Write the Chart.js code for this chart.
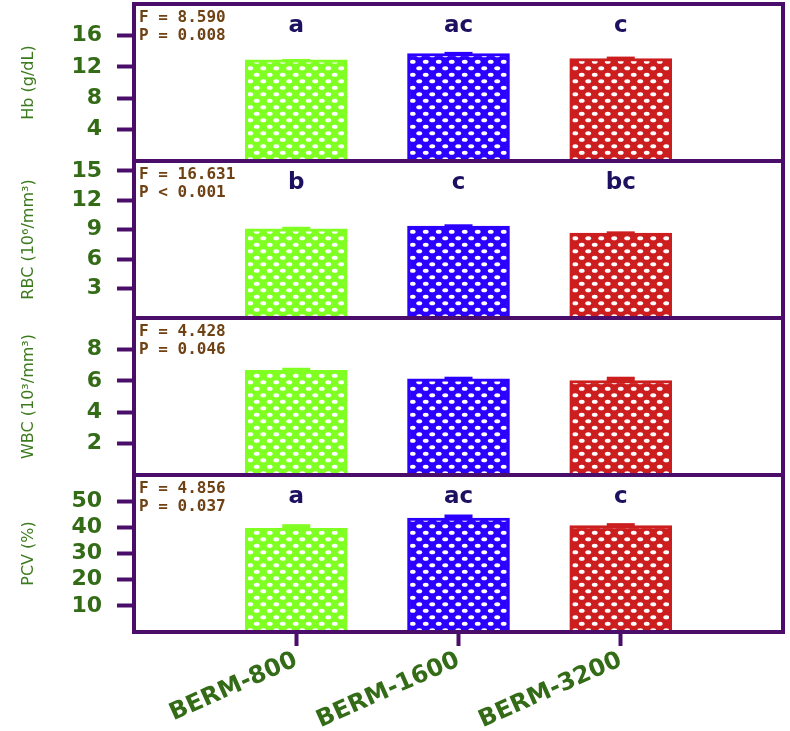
<!DOCTYPE html>
<html>
<head>
<meta charset="utf-8">
<script src="https://cdn.jsdelivr.net/npm/chart.js@4.4.1/dist/chart.umd.min.js"></script>
<style>
html,body{margin:0;padding:0;background:#fff;}
#wrap{position:relative;width:790px;height:731px;overflow:hidden;background:#fff;}
canvas{position:absolute;left:0;}
</style>
</head>
<body>
<div id="wrap">
<canvas id="c1" width="790" height="165" style="top:0px"></canvas>
<canvas id="c2" width="790" height="165" style="top:157px"></canvas>
<canvas id="c3" width="790" height="165" style="top:314px"></canvas>
<canvas id="c4" width="790" height="260" style="top:471px"></canvas>
</div>
<script>
// ---- data ----
const categories = ['BERM-800', 'BERM-1600', 'BERM-3200'];

const hbValues  = [12.9, 13.7, 13.05];
const hbErrors  = [0.1, 0.2, 0.25];
const rbcValues = [9.1, 9.38, 8.66];
const rbcErrors = [0.2, 0.17, 0.17];
const wbcValues = [6.66, 6.13, 6.02];
const wbcErrors = [0.17, 0.13, 0.24];
const pcvValues = [39.6, 43.5, 40.7];
const pcvErrors = [1.6, 1.4, 0.9];

const hbTicks  = [4, 8, 12, 16];
const rbcTicks = [3, 6, 9, 12, 15];
const wbcTicks = [2, 4, 6, 8];
const pcvTicks = [10, 20, 30, 40, 50];

const hbLetters  = ['a', 'ac', 'c'];
const rbcLetters = ['b', 'c', 'bc'];
const wbcLetters = ['', '', ''];
const pcvLetters = ['a', 'ac', 'c'];

const hbStats  = ['F = 8.590', 'P = 0.008'];
const rbcStats = ['F = 16.631', 'P < 0.001'];
const wbcStats = ['F = 4.428', 'P = 0.046'];
const pcvStats = ['F = 4.856', 'P = 0.037'];

const titles = ['Hb (g/dL)', 'RBC (10\u2076/mm\u00B3)', 'WBC (10\u00B3/mm\u00B3)', 'PCV (%)'];
const axisMax = [20, 16, 10, 60];

// ---- styles ----
const barColors = ['#80FF22', '#2C00FF', '#CC1E1E'];
const frameColor = '#4A0E6A';
const labelGreen = '#336B17';
const letterColor = '#1E1060';
const statColor = '#6E4214';

function makePattern(color) {
  const c = document.createElement('canvas');
  c.width = 13; c.height = 13;
  const g = c.getContext('2d');
  g.fillStyle = color;
  g.fillRect(0, 0, 13, 13);
  g.fillStyle = '#ffffff';
  [[3.25, 3.25], [9.75, 9.75]].forEach(([px, py]) => {
    g.beginPath();
    g.ellipse(px, py, 2.9, 2.1, 0, 0, Math.PI * 2);
    g.fill();
  });
  return g.createPattern(c, 'repeat');
}
const patterns = barColors.map(makePattern);

function overlayPlugin(values, errors, letters, stats) {
  return {
    id: 'overlay',
    afterDatasetsDraw(chart) {
      const ctx = chart.ctx;
      const a = chart.chartArea;
      const x = chart.scales.x, y = chart.scales.y;
      ctx.save();
      values.forEach((v, i) => {
        const px = x.getPixelForValue(i + 1);
        const y0 = y.getPixelForValue(v);
        const y1 = y.getPixelForValue(v + errors[i]);
        ctx.fillStyle = barColors[i];
        ctx.fillRect(px - 14, y1, 28, y0 - y1 + 1);
      });
      ctx.fillStyle = letterColor;
      ctx.font = 'bold 23px "DejaVu Sans"';
      ctx.textAlign = 'center';
      ctx.textBaseline = 'middle';
      letters.forEach((t, i) => {
        if (t) ctx.fillText(t, x.getPixelForValue(i + 1), a.top + 22);
      });
      ctx.fillStyle = statColor;
      ctx.font = 'bold 16px "DejaVu Sans Mono"';
      ctx.textAlign = 'left';
      stats.forEach((t, j) => ctx.fillText(t, a.left + 5, a.top + 14 + j * 18));
      ctx.strokeStyle = frameColor;
      ctx.lineWidth = 4;
      ctx.strokeRect(a.left, a.top, a.right - a.left, a.bottom - a.top);
      ctx.restore();
    }
  };
}

function makePanel(id, idx, values, errors, ticks, letters, stats, isBottom) {
  new Chart(document.getElementById(id), {
    type: 'bar',
    data: {
      datasets: [{
        data: values.map((v, i) => ({ x: i + 1, y: v })),
        backgroundColor: patterns,
        borderColor: barColors,
        borderWidth: 3,
        barThickness: 102
      }]
    },
    options: {
      responsive: false,
      animation: false,
      devicePixelRatio: 1,
      layout: { padding: { top: 4, bottom: isBottom ? 0 : 4, left: 0, right: 7 } },
      plugins: { legend: { display: false }, tooltip: { enabled: false } },
      scales: {
        x: {
          type: 'linear',
          min: 0, max: 4,
          offset: false,
          display: isBottom,
          afterBuildTicks: s => { s.ticks = categories.map((c, i) => ({ value: i + 1 })); },
          afterFit: s => {
            if (isBottom) s.height = 99;
            s.paddingLeft = 0; s.paddingRight = 0;
          },
          grid: { offset: false, drawOnChartArea: false, drawTicks: true, tickLength: 14, tickWidth: 4, tickColor: frameColor, color: frameColor },
          border: { display: false },
          ticks: {
            autoSkip: false, maxRotation: 24, minRotation: 24, padding: 0,
            color: labelGreen,
            font: { family: 'DejaVu Sans', size: 24, weight: 'bold' },
            callback: v => categories[v - 1] || ''
          }
        },
        y: {
          min: 0, max: axisMax[idx],
          afterBuildTicks: s => { s.ticks = ticks.map(v => ({ value: v })); },
          afterFit: s => { s.width = 134; s.paddingTop = 0; s.paddingBottom = 0; },
          grid: { drawOnChartArea: false, drawTicks: true, tickLength: 17, tickWidth: 4, tickColor: frameColor, color: frameColor },
          border: { display: false },
          ticks: {
            padding: 15,
            color: labelGreen,
            font: { family: 'DejaVu Sans', size: 22, weight: 'bold' }
          },
          title: {
            display: true,
            text: titles[idx],
            color: '#3C7A1E',
            font: { family: 'DejaVu Sans', size: 16 },
            padding: { top: 19, bottom: 0 }
          }
        }
      }
    },
    plugins: [overlayPlugin(values, errors, letters, stats)]
  });
}

makePanel('c1', 0, hbValues, hbErrors, hbTicks, hbLetters, hbStats, false);
makePanel('c2', 1, rbcValues, rbcErrors, rbcTicks, rbcLetters, rbcStats, false);
makePanel('c3', 2, wbcValues, wbcErrors, wbcTicks, wbcLetters, wbcStats, false);
makePanel('c4', 3, pcvValues, pcvErrors, pcvTicks, pcvLetters, pcvStats, true);
</script>
</body>
</html>
